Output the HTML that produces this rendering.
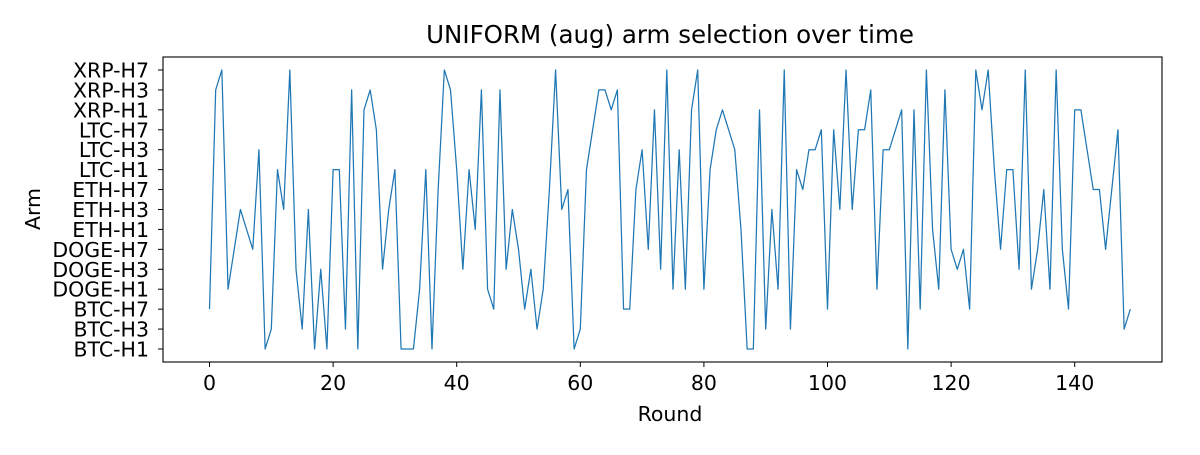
<!DOCTYPE html>
<html><head><meta charset="utf-8"><style>
body{margin:0;background:#fff;}
svg text{font-family:"DejaVu Sans","Liberation Sans",sans-serif;fill:#000;}
</style></head><body>
<svg width="1200" height="450" id="chart">
<rect x="0" y="0" width="1200" height="450" fill="#fff"/>
<text x="670" y="43" font-size="24.5" text-anchor="middle">UNIFORM (aug) arm selection over time</text>
<g id="yticks"></g>
<g id="xticks"></g>
<path id="line" fill="none" stroke="#1f77b4" stroke-width="1.25" stroke-linejoin="round"/>
<rect x="163" y="57" width="999" height="305" fill="none" stroke="#000" stroke-width="1.1"/>
<text x="670" y="421" font-size="20.5" text-anchor="middle">Round</text>
<text x="0" y="0" font-size="20.5" text-anchor="middle" transform="translate(40,209) rotate(-90)">Arm</text>
</svg>
<script>
const armLabels = ["BTC-H1","BTC-H3","BTC-H7","DOGE-H1","DOGE-H3","DOGE-H7","ETH-H1","ETH-H3","ETH-H7","LTC-H1","LTC-H3","LTC-H7","XRP-H1","XRP-H3","XRP-H7"];
const xTickValues = [0,20,40,60,80,100,120,140];
const selections = [2,13,14,3,5,7,6,5,10,0,1,9,7,14,4,1,7,0,4,0,9,9,1,13,0,12,13,11,4,7,
9,0,0,0,3,9,0,8,14,13,9,4,9,6,13,3,2,13,4,7,5,2,4,1,3,8,14,7,8,0,
1,9,11,13,13,12,13,2,2,8,10,5,12,4,14,3,10,3,12,14,3,9,11,12,11,10,6,0,0,12,
1,7,3,14,1,9,8,10,10,11,2,11,7,14,7,11,11,13,3,10,10,11,12,0,12,2,14,6,3,13,
5,4,5,2,14,12,14,9,5,9,9,4,14,3,5,8,3,14,5,2,12,12,10,8,8,5,8,11,1,2];
const NS="http://www.w3.org/2000/svg";
function xs(v){return 209.5+v*6.18;}
function ys(v){return 349-v*19.93;}
const yg=document.getElementById('yticks');
armLabels.forEach((l,i)=>{
  const t=document.createElementNS(NS,'line');
  t.setAttribute('x1',158);t.setAttribute('x2',163);t.setAttribute('y1',ys(i));t.setAttribute('y2',ys(i));t.setAttribute('stroke','#000');
  
  
  yg.appendChild(t);
  const tx=document.createElementNS(NS,'text');
  tx.setAttribute('x',149);tx.setAttribute('y',ys(i)+7.5);tx.setAttribute('font-size','20.5');tx.setAttribute('text-anchor','end');
  tx.textContent=l;
  
  
  yg.appendChild(tx);
});
const xg=document.getElementById('xticks');
xTickValues.forEach(v=>{
  const t=document.createElementNS(NS,'line');
  t.setAttribute('x1',xs(v));t.setAttribute('x2',xs(v));t.setAttribute('y1',362);t.setAttribute('y2',367);t.setAttribute('stroke','#000');
  
  
  xg.appendChild(t);
  const tx=document.createElementNS(NS,'text');
  tx.setAttribute('x',xs(v));tx.setAttribute('y',390);tx.setAttribute('font-size','20.5');tx.setAttribute('text-anchor','middle');
  tx.textContent=v;
  
  
  xg.appendChild(tx);
});
document.getElementById('line').setAttribute('d',selections.map((v,i)=>(i?'L':'M')+xs(i).toFixed(2)+' '+ys(v).toFixed(2)).join(' '));
</script>
</body></html>
